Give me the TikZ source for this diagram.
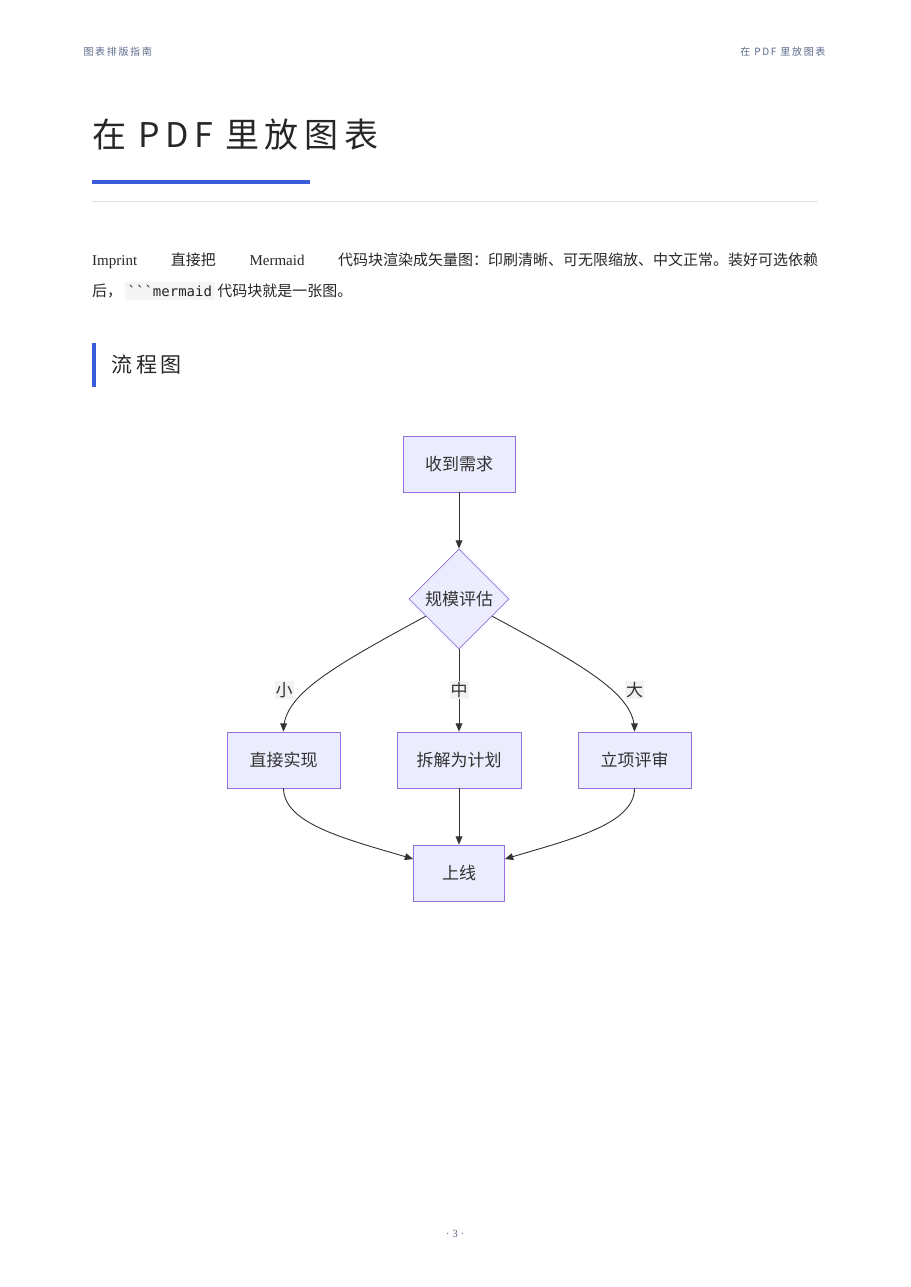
\documentclass[tikz,border=0pt]{standalone}
\usepackage{fontspec}
\setmainfont{Liberation Serif}
\setmonofont{DejaVu Sans Mono}
\newfontfamily\cjk{Noto Sans CJK SC}
\usetikzlibrary{arrows, shapes.geometric, calc}
\definecolor{accent}{HTML}{3B5BDB}
\definecolor{hdr}{HTML}{5A6A8A}
\definecolor{mfill}{HTML}{ECECFF}
\definecolor{mline}{HTML}{9370DB}
\definecolor{ink}{HTML}{333333}
\tikzset{
  box/.style={draw=mline, fill=mfill, line width=0.8pt, minimum height=56pt, text=ink, font=\cjk\fontsize{17}{20}\selectfont},
  dia/.style={draw=mline, fill=mfill, line width=0.8pt, diamond, minimum width=100pt, minimum height=100pt, inner sep=0pt, text=ink, font=\cjk\fontsize{17}{20}\selectfont},
  flow/.style={-triangle 45, draw=ink, line width=0.9pt},
  lbl/.style={fill=black!5, inner sep=1pt, text=ink, font=\cjk\fontsize{17}{20}\selectfont}
}
\begin{document}
\begin{tikzpicture}[x=1pt, y=-1pt]
\useasboundingbox (0,0) rectangle (910,1287);
        % page head
        \node[anchor=west, text=hdr, font=\cjk\fontsize{10}{12}\selectfont] (headl) at (80,52) {图\,表\,排\,版\,指\,南};
        \node[anchor=east, text=hdr, font=\cjk\fontsize{10}{12}\selectfont] (headr) at (829,52) {在\hspace{4pt}P\,D\,F\hspace{4pt}里\,放\,图\,表};
        \node[anchor=west, text=black!85, font=\cjk\fontsize{34}{40}\selectfont, inner sep=0pt] (title) at (92,135) {在\hspace{12pt}P\,D\,F\hspace{12pt}里\,放\,图\,表};
        \fill[accent] (92,180) rectangle (310,184);
        \draw[black!12, line width=1pt] (92,201) -- (818,201);
        % paragraph
        \node[anchor=west, inner sep=0pt, text=black!85, font=\fontsize{15}{18}\selectfont] (para1) at (92,261)
          {\makebox[726pt][s]{Imprint\hfill{\cjk 直接把}\hfill Mermaid\hfill{\cjk 代码块渲染成矢量图：印刷清晰、可无限缩放、中文正常。装好可选依赖}}};
        \node[anchor=west, inner sep=0pt, text=black!85, font=\fontsize{15}{18}\selectfont] (para2) at (92,291)
          {{\cjk 后，}\,\colorbox{black!4}{\ttfamily\fontsize{14}{16}\selectfont```mermaid}\,{\cjk 代码块就是一张图。}};
        \fill[accent] (92,343) rectangle (96,387);
        \node[anchor=west, text=black!85, font=\cjk\fontsize{21}{24}\selectfont] (sec) at (108,365) {流\,程\,图};
        % flowchart
        \node[box, minimum width=112pt] (need) at (459,464) {收到需求};
        \node[dia] (size) at (459,599) {规模评估};
        \node[box, minimum width=113pt] (direct) at (283.5,760) {直接实现};
        \node[box, minimum width=124pt] (plan) at (459,760) {拆解为计划};
        \node[box, minimum width=113pt] (review) at (634.5,760) {立项评审};
        \node[box, minimum width=91pt] (live) at (459,873) {上线};
        \draw[flow] (need) -- (size);
        \draw[flow] (size.south west) ++(-8,-8) coordinate (sl) .. controls (330,668) and (284,695) .. (direct.north);
        \draw[flow] (size.south east) ++(8,-8) coordinate (sr) .. controls (588,668) and (634.5,695) .. (review.north);
        \draw[flow] (size) -- (plan);
        \draw[flow] (direct.south) .. controls (284,825) and (350,840) .. (live.west |- 0,859);
        \draw[flow] (plan) -- (live);
        \draw[flow] (review.south) .. controls (634.5,825) and (568,840) .. (live.east |- 0,859);
        \node[lbl] (small) at (284,690) {小};
        \node[lbl] (mid) at (459,690) {中};
        \node[lbl] (big) at (634.5,690) {大};
        % foot
        \node[text=hdr, font=\fontsize{11}{13}\selectfont] (page) at (455,1234) {·\ 3\ ·};
\end{tikzpicture}
\end{document}
